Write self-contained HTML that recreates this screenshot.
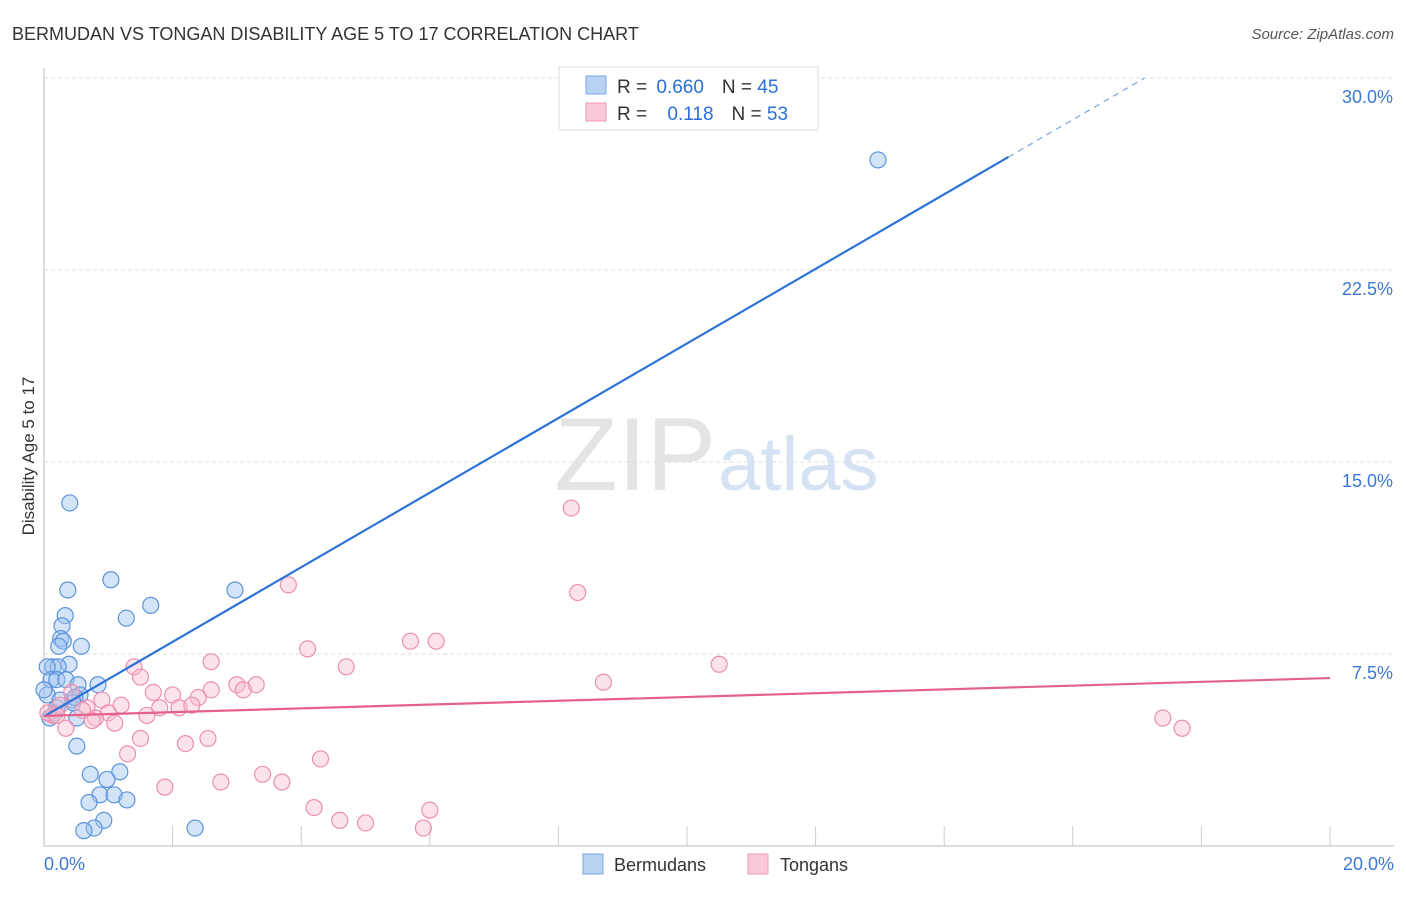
<!DOCTYPE html>
<html><head><meta charset="utf-8"><style>
body{margin:0;background:#fff;font-family:"Liberation Sans",sans-serif}
#c{position:relative;width:1406px;height:892px}
text{font-family:"Liberation Sans",sans-serif}
</style></head><body><div id="c">
<svg id="s" width="1406" height="892">
<text x="12" y="40" font-size="18" fill="#333">BERMUDAN VS TONGAN DISABILITY AGE 5 TO 17 CORRELATION CHART</text>
<text x="1394" y="39" font-size="15" fill="#555" text-anchor="end" font-style="italic">Source: ZipAtlas.com</text>
<text x="34" y="456" font-size="17" fill="#333" text-anchor="middle" transform="rotate(-90 34 456)">Disability Age 5 to 17</text>
<text x="716" y="490" font-size="104" fill="#e4e4e4" text-anchor="end" font-family="Liberation Serif">ZIP</text>
<text x="718" y="490" font-size="76" fill="#d4e2f4">atlas</text>
<g id="grid"></g><g id="pts"></g><g id="lines"></g>
<g>
<rect x="559" y="67" width="259" height="63" fill="#fff" stroke="#ddd"/>
<rect x="586" y="76" width="20" height="18" fill="#b8d2f3" stroke="#7aa7e3"/>
<rect x="586" y="103" width="20" height="18" fill="#f9c9d8" stroke="#ee9ab5"/>
<text x="617" y="93" font-size="19" fill="#333">R = <tspan fill="#2a6fd6" dx="4">0.660</tspan><tspan dx="18" fill="#333">N = </tspan><tspan fill="#2a6fd6">45</tspan></text>
<text x="617" y="120" font-size="19" fill="#333">R = <tspan fill="#2a6fd6" dx="15">0.118</tspan><tspan dx="18" fill="#333">N = </tspan><tspan fill="#2a6fd6">53</tspan></text>
</g>
<g>
<rect x="583" y="854" width="20" height="20" fill="#b8d2f3" stroke="#7aa7e3"/>
<text x="614" y="871" font-size="18" fill="#333">Bermudans</text>
<rect x="748" y="854" width="20" height="20" fill="#f9c9d8" stroke="#ee9ab5"/>
<text x="780" y="871" font-size="18" fill="#333">Tongans</text>
</g>
</svg></div>
<script>
const yTicks=[7.5,15,22.5,30];
const xTickLabels=["0.0%","20.0%"];
const blueX=[0.40,1.04,0.37,2.97,1.66,0.33,1.28,0.28,0.26,0.30,0.23,0.58,0.39,0.14,0.22,0.05,0.11,0.20,0.34,0.53,0.84,0.05,0.56,0.44,0.48,0.17,0.09,0.51,0.51,0.72,1.18,0.98,0.87,1.09,0.70,1.29,0.93,0.78,0.62,2.35,12.97,0.20,0.45,0.0,0.25];
const blueY=[13.4,10.4,10.0,10.0,9.4,9.0,8.9,8.6,8.1,8.0,7.8,7.8,7.1,7.0,7.0,7.0,6.5,6.5,6.5,6.3,6.3,5.9,5.9,5.7,5.8,5.2,5.0,5.0,3.9,2.8,2.9,2.6,2.0,2.0,1.7,1.8,1.0,0.7,0.6,0.7,26.8,5.4,5.6,6.1,5.7];
const pinkX=[8.2,8.3,3.8,5.7,6.1,4.1,4.7,10.5,2.6,1.4,1.5,8.7,3.0,2.6,3.3,1.7,2.0,3.1,2.4,0.9,1.2,1.8,2.1,2.3,0.67,1.0,1.6,0.8,0.75,1.1,0.34,0.14,0.06,17.4,17.7,1.5,2.55,2.2,1.3,4.3,3.4,2.75,3.7,1.88,4.2,6.0,4.6,5.0,5.9,0.25,0.6,0.2,0.43];
const pinkY=[13.2,9.9,10.2,8.0,8.0,7.7,7.0,7.1,7.2,7.0,6.6,6.4,6.3,6.1,6.3,6.0,5.9,6.1,5.8,5.7,5.5,5.4,5.4,5.5,5.4,5.2,5.1,5.0,4.9,4.8,4.6,5.1,5.2,5.0,4.6,4.2,4.2,4.0,3.6,3.4,2.8,2.5,2.5,2.3,1.5,1.4,1.0,0.9,0.7,5.5,5.3,5.1,6.0];
const blueTrend=[5.06,34.2];
const pinkTrend=[5.08,6.56];
const X=v=>44+v/20*1286, Y=v=>846-v/30*768;
const NS="http://www.w3.org/2000/svg";
function mk(t,a,p){const e=document.createElementNS(NS,t);for(const k in a)e.setAttribute(k,a[k]);p.appendChild(e);return e;}
const g=document.getElementById('grid'),pts=document.getElementById('pts'),ln=document.getElementById('lines');
const ya=mk('line',{x1:44,y1:68,x2:44,y2:846,stroke:'#bbb'},g);


const xa=mk('line',{x1:44,y1:846,x2:1394,y2:846,stroke:'#bbb'},g);


yTicks.forEach(t=>{const l=mk('line',{x1:44,x2:1394,y1:Y(t),y2:Y(t),stroke:'#ddd','stroke-dasharray':'4,3'},g);


const tx=mk('text',{x:1393,y:Y(t)+25,'font-size':18,fill:'#3b78d8','text-anchor':'end'},g);tx.textContent=t.toFixed(1)+'%';

});
for(let i=1;i<=10;i++){const l=mk('line',{x1:X(i*2),x2:X(i*2),y1:826,y2:846,stroke:'#ccc'},g);

}
xTickLabels.forEach((s,i)=>{const tx=mk('text',{x:i?1394:44,y:870,'font-size':18,fill:'#3b78d8','text-anchor':i?'end':'start'},g);tx.textContent=s;

});
blueX.forEach((x,i)=>{const c=mk('circle',{cx:X(x),cy:Y(blueY[i]),r:8,fill:'rgba(160,196,240,0.45)',stroke:'#5a93dc','stroke-width':1.2},pts);

});
pinkX.forEach((x,i)=>{const c=mk('circle',{cx:X(x),cy:Y(pinkY[i]),r:8,fill:'rgba(248,190,208,0.45)',stroke:'#ec8fae','stroke-width':1.2},pts);

});
const by=x=>blueTrend[0]+(blueTrend[1]-blueTrend[0])*x/20;
const b1=mk('line',{x1:X(0),y1:Y(by(0)),x2:X(15),y2:Y(by(15)),stroke:'#2b73d6','stroke-width':2.2},ln);


const xe=20*(30-blueTrend[0])/(blueTrend[1]-blueTrend[0]);
const b2=mk('line',{x1:X(15),y1:Y(by(15)),x2:X(xe),y2:Y(30),stroke:'#7aa7e3','stroke-width':1.2,'stroke-dasharray':'6,5'},ln);


const p1=mk('line',{x1:X(0),y1:Y(pinkTrend[0]),x2:X(20),y2:Y(pinkTrend[1]),stroke:'#e5608c','stroke-width':2.2},ln);


</script></body></html>
